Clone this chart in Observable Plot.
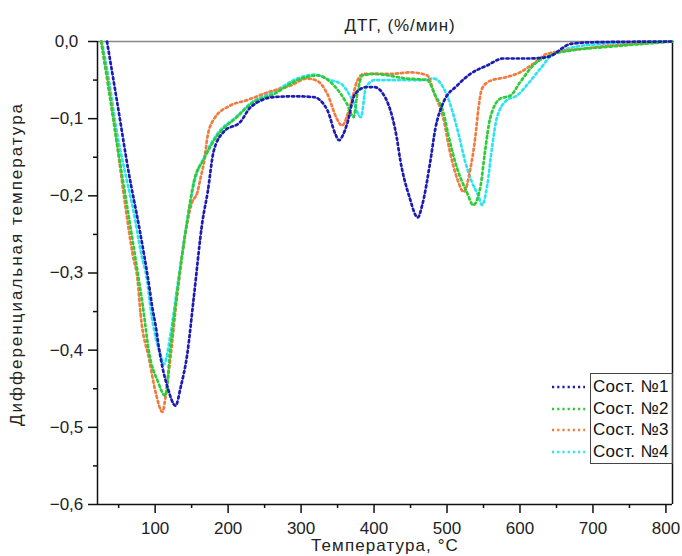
<!DOCTYPE html>
<html>
<head>
<meta charset="utf-8">
<script src="https://cdn.jsdelivr.net/npm/d3@7"></script>
<script src="https://cdn.jsdelivr.net/npm/@observablehq/plot@0.6"></script>
<style>
  html, body { margin: 0; padding: 0; background: #fff; }
  #wrap { position: relative; width: 682px; height: 556px; overflow: hidden; font-family: "Liberation Sans", Arial, sans-serif; }
  #legend { position: absolute; left: 590px; top: 373px; width: 81px; height: 89px; border: 1px solid #444; box-sizing: content-box; }
  .item { position: absolute; left: 0; font-size: 17px; color: #111; white-space: nowrap; line-height: 17px; letter-spacing: 0.3px; }
  .sw { position: absolute; }
  .ttl { letter-spacing: 0.9px; }
  .xl { letter-spacing: 1.1px; }
  .yl { letter-spacing: 2px; }
</style>
</head>
<body>
<div id="wrap"></div>
<script>
const title = "ДТГ, (%/мин)";
const xLabel = "Температура, °С";
const yLabel = "Дифференциальная температура";
const seriesNames = ["Сост. №1", "Сост. №2", "Сост. №3", "Сост. №4"];
const seriesColors = ["#1c1cb4", "#2ccc3a", "#f07c40", "#2ee4ee"];
const xMajorTicks = [100, 200, 300, 400, 500, 600, 700, 800];
const xMinorTicks = [50, 150, 250, 350, 450, 550, 650, 750];
const yMajorTicks = [0, -0.1, -0.2, -0.3, -0.4, -0.5, -0.6];
const yMinorTicks = [-0.05, -0.15, -0.25, -0.35, -0.45, -0.55];

const t1 = [34, 48, 64, 78, 92, 96, 101, 105, 110, 117, 128, 135, 144, 153, 165, 172, 180, 194, 217, 231, 263, 290, 317, 336, 347, 352, 357, 363, 374, 390, 400, 415, 425, 431, 436, 448, 460, 466, 477, 484, 495, 514, 532, 555, 577, 614, 638, 670, 700, 809];
const v1 = [0, -0.079, -0.171, -0.240, -0.318, -0.344, -0.370, -0.396, -0.422, -0.448, -0.472, -0.448, -0.405, -0.331, -0.232, -0.195, -0.143, -0.117, -0.104, -0.085, -0.072, -0.071, -0.072, -0.089, -0.120, -0.128, -0.122, -0.107, -0.068, -0.059, -0.059, -0.072, -0.098, -0.124, -0.154, -0.200, -0.228, -0.212, -0.156, -0.113, -0.079, -0.057, -0.042, -0.031, -0.022, -0.022, -0.020, -0.003, -0.001, 0];

const t2 = [26, 37, 48, 62, 69, 76, 83, 92, 103, 114, 121, 130, 144, 153, 167, 185, 212, 231, 263, 295, 322, 345, 363, 372, 377, 384, 400, 445, 473, 484, 495, 502, 514, 527, 536, 546, 552, 559, 573, 587, 600, 618, 641, 675, 720, 809];
const v2 = [0, -0.066, -0.134, -0.216, -0.257, -0.299, -0.342, -0.405, -0.439, -0.459, -0.396, -0.327, -0.232, -0.182, -0.152, -0.122, -0.098, -0.081, -0.068, -0.050, -0.044, -0.057, -0.081, -0.098, -0.068, -0.044, -0.042, -0.048, -0.050, -0.070, -0.092, -0.122, -0.165, -0.195, -0.212, -0.187, -0.143, -0.100, -0.074, -0.070, -0.053, -0.031, -0.018, -0.011, -0.007, 0];

const t3 = [26, 37, 48, 60, 69, 76, 80, 92, 101, 110, 115, 121, 130, 144, 150, 158, 162, 167, 172, 181, 203, 226, 254, 286, 308, 322, 336, 349, 356, 368, 377, 386, 422, 450, 473, 482, 495, 504, 514, 523, 532, 539, 543, 548, 559, 582, 600, 618, 637, 680, 809];
const v3 = [0, -0.062, -0.135, -0.219, -0.275, -0.310, -0.353, -0.413, -0.456, -0.480, -0.455, -0.410, -0.330, -0.235, -0.210, -0.195, -0.178, -0.156, -0.122, -0.100, -0.083, -0.076, -0.066, -0.057, -0.048, -0.051, -0.068, -0.100, -0.109, -0.081, -0.051, -0.042, -0.042, -0.040, -0.044, -0.066, -0.100, -0.143, -0.178, -0.195, -0.165, -0.122, -0.087, -0.061, -0.051, -0.046, -0.040, -0.029, -0.016, -0.010, 0];

const t4 = [27, 37, 48, 60, 71, 80, 89, 94, 101, 107, 112, 121, 130, 144, 153, 167, 185, 212, 231, 263, 295, 318, 340, 355, 370, 382, 389, 401, 427, 465, 482, 500, 514, 525, 534, 543, 548, 555, 562, 568, 582, 596, 609, 628, 646, 700, 809];
const v4 = [0, -0.052, -0.120, -0.175, -0.223, -0.271, -0.310, -0.348, -0.385, -0.405, -0.418, -0.380, -0.320, -0.232, -0.185, -0.150, -0.120, -0.097, -0.080, -0.065, -0.048, -0.043, -0.050, -0.055, -0.075, -0.098, -0.059, -0.050, -0.050, -0.050, -0.048, -0.070, -0.113, -0.156, -0.182, -0.200, -0.212, -0.187, -0.135, -0.100, -0.076, -0.070, -0.057, -0.035, -0.016, -0.004, 0];

const temps = [t1, t2, t3, t4];
const vals = [v1, v2, v3, v4];
const data = [];
temps.forEach((ts, i) => ts.forEach((t, j) => data.push({series: seriesNames[i], t, v: vals[i][j]})));

const fmt = d => (Math.abs(d) < 1e-9 ? "0,0" : (d < 0 ? "\u2212" : "") + Math.abs(d).toFixed(1).replace(".", ","));
const font = "Liberation Sans, Arial, sans-serif";
const xDomain = [21, 809];
const yDomain = [-0.6, 0];
const dash = "2.2,3";

const drawOrder = [3, 2, 1, 0];
const lineMarks = drawOrder.map(i => Plot.line(data.filter(d => d.series === seriesNames[i]), {
  x: "t", y: "v", stroke: seriesColors[i], strokeWidth: 2.7,
  strokeDasharray: dash, curve: "monotone-x"
}));

const chart = Plot.plot({
  width: 682,
  height: 556,
  marginLeft: 97,
  marginRight: 10,
  marginTop: 41,
  marginBottom: 52,
  style: {fontFamily: font, fontSize: "17px", color: "#222", background: "white", overflow: "visible"},
  x: {domain: xDomain, label: null},
  y: {domain: yDomain, label: null},
  marks: [
    Plot.ruleY([yDomain[1]], {stroke: "#888", strokeWidth: 1.5}),
    Plot.ruleX([xDomain[1]], {stroke: "#111", strokeWidth: 1.5}),
    ...lineMarks,
    Plot.ruleX([xDomain[0]], {stroke: "#111", strokeWidth: 1.5}),
    Plot.ruleY([yDomain[0]], {stroke: "#111", strokeWidth: 1.5}),
    Plot.axisX(xMajorTicks, {tickSize: 9, tickFormat: d => String(d), tickPadding: 8, fontSize: 17, stroke: "#111", strokeWidth: 1.5}),
    Plot.axisX(xMinorTicks, {tickSize: 4, text: null, stroke: "#111", strokeWidth: 1.5}),
    Plot.axisY(yMajorTicks, {tickSize: 9, tickFormat: fmt, tickPadding: 22, textAnchor: "middle", fontSize: 17, stroke: "#111", strokeWidth: 1.5}),
    Plot.axisY(yMinorTicks, {tickSize: 4, text: null, stroke: "#111", strokeWidth: 1.5}),
    Plot.text([title], {frameAnchor: "top", lineAnchor: "middle", textAnchor: "middle", dx: 15, dy: -16, fontSize: 17, fill: "#222", className: "ttl"}),
    Plot.text([xLabel], {frameAnchor: "bottom", lineAnchor: "middle", textAnchor: "middle", dy: 41, fontSize: 17, fill: "#222", className: "xl"}),
    Plot.text([yLabel], {frameAnchor: "left", lineAnchor: "middle", textAnchor: "middle", dx: -81, dy: -9, rotate: -90, fontSize: 17, fill: "#222", className: "yl"})
  ]
});

const wrap = document.getElementById("wrap");
wrap.appendChild(chart);

const legend = document.createElement("div");
legend.id = "legend";
wrap.appendChild(legend);
seriesNames.forEach((name, i) => {
  const top = 4 + i * 21.5;
  const item = document.createElement("div");
  item.className = "item";
  item.style.left = "2px";
  item.style.top = top + "px";
  item.textContent = name;
  legend.appendChild(item);
  const sw = document.createElementNS("http://www.w3.org/2000/svg", "svg");
  sw.setAttribute("class", "sw");
  sw.setAttribute("width", 36);
  sw.setAttribute("height", 8);
  sw.style.left = "-40px";
  sw.style.top = (top + 5) + "px";
  const ln = document.createElementNS("http://www.w3.org/2000/svg", "line");
  ln.setAttribute("x1", 1); ln.setAttribute("x2", 34);
  ln.setAttribute("y1", 4); ln.setAttribute("y2", 4);
  ln.setAttribute("stroke", seriesColors[i]);
  ln.setAttribute("stroke-width", 2.7);
  ln.setAttribute("stroke-dasharray", dash);
  sw.appendChild(ln);
  legend.appendChild(sw);
});
</script>
</body>
</html>
